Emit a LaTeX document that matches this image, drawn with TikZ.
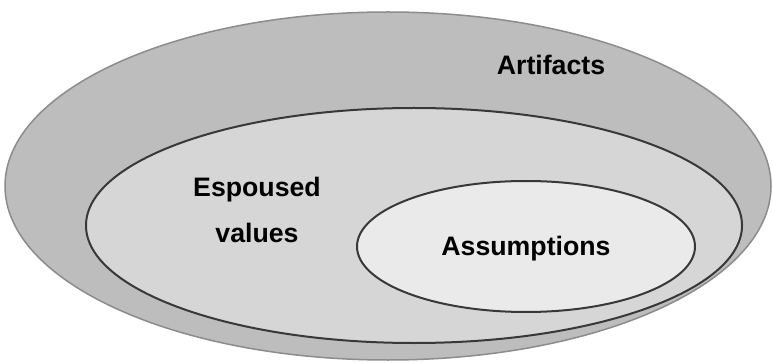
\documentclass[tikz,border=0pt]{standalone}
\usepackage{fontspec}
\setmainfont{Liberation Sans}
\usetikzlibrary{shapes.geometric}
\definecolor{ringA}{HTML}{BDBDBD}
\definecolor{ringB}{HTML}{D6D6D6}
\definecolor{ringC}{HTML}{EAEAEA}
\definecolor{edgeA}{HTML}{8C8C8C}
\definecolor{edgeB}{HTML}{383838}
\tikzset{
  layer/.style={ellipse, inner sep=0pt, outer sep=0pt},
  label/.style={font=\bfseries\fontsize{26.7}{46}\selectfont, text=black, inner sep=0pt, align=center}
}
\begin{document}
\begin{tikzpicture}[x=1pt, y=-1pt]
  \useasboundingbox (0,0) rectangle (773,363);
  % three nested layers of culture
  \node[layer, fill=ringA, draw=edgeA, line width=1.5pt,
        minimum width=766pt, minimum height=348pt] (artifacts) at (388,186) {};
  \node[layer, fill=ringB, draw=edgeB, line width=2pt,
        minimum width=656pt, minimum height=235pt] (espoused) at (414,225.5) {};
  \node[layer, fill=ringC, draw=edgeB, line width=2pt,
        minimum width=338pt, minimum height=131pt] (assumptions) at (526,246.5) {};
  % labels
  \node[label, anchor=base] (tArtifacts) at (551,75) {Artifacts};
  \node[label, anchor=base] (tEspoused) at (257,243) {Espoused\\values};
  \node[label, anchor=base] (tAssumptions) at (526,255) {Assumptions};
\end{tikzpicture}
\end{document}
